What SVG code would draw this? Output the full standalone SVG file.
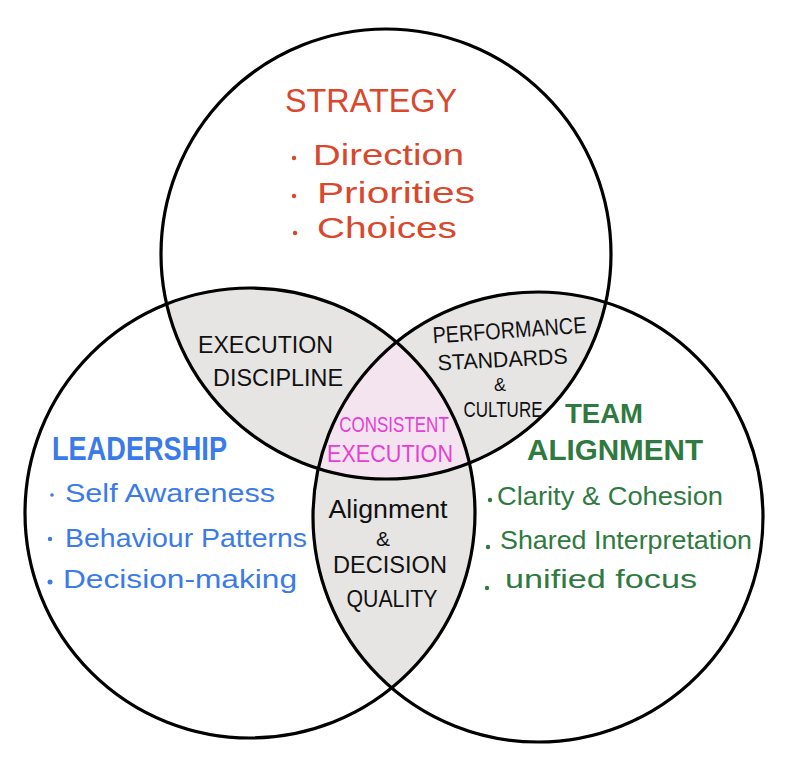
<svg xmlns="http://www.w3.org/2000/svg" width="788" height="770" viewBox="0 0 788 770">
<style>
.ring{fill:none;stroke:#000;stroke-width:3.2}
.lens{fill:#e6e5e4}
.core{fill:#f3e4f0}
text{font-family:"Liberation Sans","DejaVu Sans",sans-serif}
.red{fill:#d9472d}
.blue{fill:#3a7ae9}
.green{fill:#2f7a40}
.mag{fill:#e63fd2}
.blk{fill:#111}
.head{font-weight:bold}
</style>
<defs>
<clipPath id="cT"><circle cx="386" cy="254" r="225"/></clipPath>
<clipPath id="cL"><circle cx="250" cy="513" r="225"/></clipPath>
<clipPath id="cR"><circle cx="538" cy="517" r="225"/></clipPath>
</defs>
<rect width="788" height="770" fill="#fff"/>
<g id="fills">
<g clip-path="url(#cT)">
<circle class="lens" cx="250" cy="513" r="225"/>
<circle class="lens" cx="538" cy="517" r="225"/>
</g>
<g clip-path="url(#cL)"><circle class="lens" cx="538" cy="517" r="225"/></g>
<g clip-path="url(#cT)"><g clip-path="url(#cL)"><circle class="core" cx="538" cy="517" r="225"/></g></g>
</g>
<g id="circles">
<circle class="ring" cx="386" cy="254" r="225"/>
<circle class="ring" cx="250" cy="513" r="225"/>
<circle class="ring" cx="538" cy="517" r="225"/>
</g>
<g id="strategy">
<text class="red" x="285" y="112" font-size="33" textLength="172" lengthAdjust="spacingAndGlyphs">STRATEGY</text>
<circle class="red" cx="294" cy="158" r="2.2"/>
<text class="red" x="313" y="165" font-size="29" textLength="151" lengthAdjust="spacingAndGlyphs">Direction</text>
<circle class="red" cx="294" cy="196" r="2.2"/>
<text class="red" x="317" y="203" font-size="29" textLength="158" lengthAdjust="spacingAndGlyphs">Priorities</text>
<circle class="red" cx="295" cy="233" r="2.2"/>
<text class="red" x="317" y="238" font-size="29" textLength="140" lengthAdjust="spacingAndGlyphs">Choices</text>
</g>
<g id="leadership">
<text class="blue head" x="52" y="460" font-size="33" textLength="175" lengthAdjust="spacingAndGlyphs">LEADERSHIP</text>
<circle class="blue" cx="52" cy="495" r="1.8"/>
<text class="blue" x="65" y="502" font-size="26" textLength="210" lengthAdjust="spacingAndGlyphs">Self Awareness</text>
<circle class="blue" cx="50" cy="539" r="2.2"/>
<text class="blue" x="65" y="547" font-size="26" textLength="242" lengthAdjust="spacingAndGlyphs">Behaviour Patterns</text>
<circle class="blue" cx="50" cy="582" r="2.5"/>
<text class="blue" x="63" y="588" font-size="26" textLength="234" lengthAdjust="spacingAndGlyphs">Decision-making</text>
</g>
<g id="team-alignment">
<text class="green head" x="604" y="423" font-size="28" text-anchor="middle" textLength="78" lengthAdjust="spacingAndGlyphs">TEAM</text>
<text class="green head" x="615" y="460" font-size="29" text-anchor="middle" textLength="176" lengthAdjust="spacingAndGlyphs">ALIGNMENT</text>
<circle class="green" cx="490" cy="500" r="2.2"/>
<text class="green" x="497" y="505" font-size="26" textLength="226" lengthAdjust="spacingAndGlyphs">Clarity &amp; Cohesion</text>
<circle class="green" cx="488" cy="547" r="2.2"/>
<text class="green" x="500" y="549" font-size="26" textLength="252" lengthAdjust="spacingAndGlyphs">Shared Interpretation</text>
<circle class="green" cx="487" cy="588" r="2.2"/>
<text class="green" x="505" y="588" font-size="26" textLength="192" lengthAdjust="spacingAndGlyphs">unified focus</text>
</g>
<g id="execution-discipline">
<text class="blk" x="198" y="353" font-size="23" textLength="135" lengthAdjust="spacingAndGlyphs">EXECUTION</text>
<text class="blk" x="213" y="386" font-size="23" textLength="130" lengthAdjust="spacingAndGlyphs">DISCIPLINE</text>
</g>
<g id="performance-standards">
<text class="blk" x="510" y="338" font-size="23" text-anchor="middle" textLength="154" lengthAdjust="spacingAndGlyphs" transform="rotate(-4 510 338)">PERFORMANCE</text>
<text class="blk" x="503" y="367" font-size="22" text-anchor="middle" textLength="130" lengthAdjust="spacingAndGlyphs" transform="rotate(-3 503 367)">STANDARDS</text>
<text class="blk" x="500" y="391" font-size="18" text-anchor="middle">&amp;</text>
<text class="blk" x="0" y="0" font-size="17" text-anchor="middle" transform="translate(503 417) scale(1 1.3)">CULTURE</text>
</g>
<g id="consistent-execution">
<text class="mag" x="0" y="0" font-size="17" text-anchor="middle" transform="translate(394 432) scale(1 1.35)">CONSISTENT</text>
<text class="mag" x="390" y="462" font-size="24" text-anchor="middle" textLength="126" lengthAdjust="spacingAndGlyphs">EXECUTION</text>
</g>
<g id="alignment-decision">
<text class="blk" x="388" y="518" font-size="25" text-anchor="middle" textLength="119" lengthAdjust="spacingAndGlyphs">Alignment</text>
<text class="blk" x="383" y="546" font-size="21" text-anchor="middle">&amp;</text>
<text class="blk" x="390" y="573" font-size="23" text-anchor="middle" textLength="114" lengthAdjust="spacingAndGlyphs">DECISION</text>
<text class="blk" x="392" y="607" font-size="23" text-anchor="middle" textLength="91" lengthAdjust="spacingAndGlyphs">QUALITY</text>
</g>
</svg>
